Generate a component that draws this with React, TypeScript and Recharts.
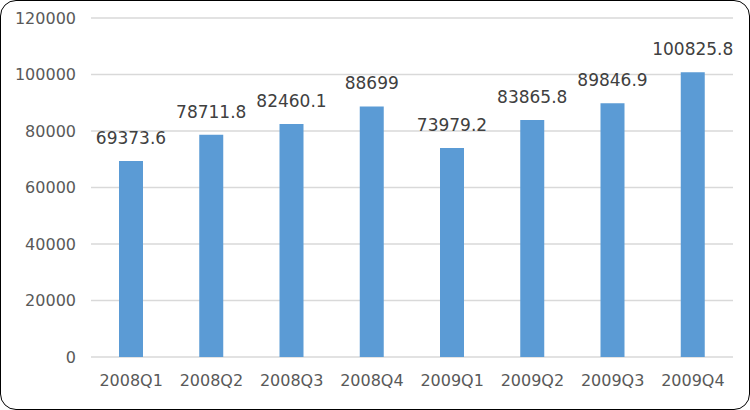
import { BarChart, Bar, XAxis, YAxis, CartesianGrid, LabelList } from 'recharts';

const quarters = ['2008Q1', '2008Q2', '2008Q3', '2008Q4', '2009Q1', '2009Q2', '2009Q3', '2009Q4'];
const values = [69373.6, 78711.8, 82460.1, 88699, 73979.2, 83865.8, 89846.9, 100825.8];
const yTicks = [0, 20000, 40000, 60000, 80000, 100000, 120000];

const data = quarters.map((q, i) => ({ quarter: q, value: values[i] }));

const font = '"DejaVu Sans", sans-serif';

export default function App() {
  return (
    <div
      style={{
        position: 'fixed',
        top: 0,
        left: 0,
        width: 750,
        height: 410,
        background: '#fff',
        border: '1.5px solid #000',
        borderRadius: 16,
        boxSizing: 'border-box',
        overflow: 'hidden',
        fontFamily: font,
      }}
    >
      <div style={{ position: 'absolute', top: -1.5, left: -1.5 }}>
        <BarChart width={750} height={410} data={data} margin={{ top: 18, right: 17, left: 0, bottom: 13 }}>
          <CartesianGrid vertical={false} stroke="#d9d9d9" strokeWidth={1.5} />
          <XAxis
            dataKey="quarter"
            axisLine={false}
            tickLine={false}
            tickMargin={12}
            height={40}
            tick={{ fill: '#595959', fontSize: 16, fontFamily: font }}
            interval={0}
          />
          <YAxis
            width={91}
            domain={[0, 120000]}
            ticks={yTicks}
            axisLine={false}
            tickLine={false}
            tickMargin={9}
            tick={{ fill: '#595959', fontSize: 16, fontFamily: font }}
          />
          <Bar dataKey="value" fill="#5b9bd5" barSize={24} isAnimationActive={false}>
            <LabelList
              dataKey="value"
              position="top"
              offset={17}
              fill="#404040"
              fontSize={17}
              fontFamily={font}
            />
          </Bar>
        </BarChart>
      </div>
    </div>
  );
}
